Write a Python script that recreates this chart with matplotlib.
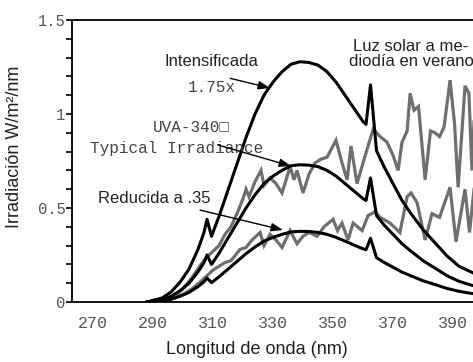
import matplotlib
matplotlib.use('Agg')
import matplotlib.pyplot as plt
from matplotlib.ticker import MultipleLocator

# lamp curves (UVA-340 at three levels)
wl_lamp = [288, 290, 293, 296, 299, 302, 305, 307, 308, 309.5, 312, 315, 318, 321, 324, 327,
           330, 333, 336, 339, 342, 345, 348, 351, 354, 357, 360, 361, 362.5, 364.5, 367, 370,
           373, 376, 380, 384, 388, 392, 396, 400]
lamp_typical = [0.0, 0.005, 0.012, 0.03, 0.06, 0.10, 0.16, 0.21, 0.25, 0.20, 0.26, 0.34, 0.42,
                0.50, 0.57, 0.63, 0.67, 0.70, 0.725, 0.73, 0.728, 0.72, 0.70, 0.67, 0.63, 0.59,
                0.55, 0.54, 0.66, 0.46, 0.41, 0.36, 0.31, 0.27, 0.22, 0.18, 0.14, 0.11, 0.09, 0.075]
lamp_high = [0.0, 0.009, 0.021, 0.053, 0.105, 0.175, 0.28, 0.37, 0.44, 0.35, 0.455, 0.595,
             0.735, 0.875, 1.0, 1.10, 1.17, 1.225, 1.265, 1.278, 1.274, 1.26, 1.225, 1.17, 1.10,
             1.03, 0.96, 0.945, 1.155, 0.805, 0.72, 0.63, 0.54, 0.47, 0.385, 0.315, 0.245, 0.19,
             0.16, 0.13]
lamp_low = [0.0, 0.003, 0.006, 0.015, 0.031, 0.051, 0.082, 0.108, 0.128, 0.103, 0.134, 0.175,
            0.216, 0.257, 0.293, 0.324, 0.344, 0.36, 0.373, 0.376, 0.375, 0.37, 0.36, 0.344,
            0.324, 0.303, 0.283, 0.278, 0.339, 0.236, 0.211, 0.185, 0.159, 0.139, 0.113, 0.093,
            0.072, 0.057, 0.046, 0.039]

# sunlight curves (gray, noisy)
wl_sun_hi = [293, 297, 300, 303, 306, 308, 310, 312, 314, 316, 318, 320, 321, 322, 324, 326,
             327, 329, 331, 333, 335.7, 337, 338, 340, 342, 344, 346, 348, 351, 353, 354.7, 356,
             358, 361.3, 363.4, 365.7, 368, 370, 371.7, 373, 374.7, 375.7, 377, 378.5, 380.7,
             382.5, 384, 385.5, 387, 389, 390.5, 391.7, 394, 395.3, 396.3, 397.5, 399]
sun_hi = [0.0, 0.03, 0.07, 0.13, 0.20, 0.24, 0.27, 0.30, 0.36, 0.40, 0.47, 0.55, 0.60, 0.56,
          0.64, 0.70, 0.62, 0.66, 0.63, 0.58, 0.72, 0.65, 0.70, 0.58, 0.68, 0.74, 0.76, 0.77,
          0.86, 0.74, 0.65, 0.83, 0.63, 0.81, 0.92, 0.88, 0.85, 0.78, 0.70, 0.85, 0.91, 1.11,
          1.02, 1.04, 0.65, 0.91, 0.90, 0.88, 0.93, 1.18, 0.95, 0.61, 1.15, 1.11, 0.70, 1.15, 1.2]
wl_sun_lo = [293, 297, 300, 303, 306, 308, 310, 312, 314, 316, 318, 319, 321, 323, 325.7, 327,
             329, 331, 333, 335.7, 338, 340, 342, 344.7, 347, 350, 351.5, 353, 355, 356.7,
             359.7, 361.7, 364, 365.7, 369, 372.3, 374.7, 376, 378, 380.7, 383, 385.5, 389, 391,
             394, 395.5, 397, 399]
sun_lo = [0.0, 0.02, 0.04, 0.07, 0.11, 0.14, 0.17, 0.19, 0.21, 0.22, 0.26, 0.28, 0.29, 0.33,
          0.37, 0.30, 0.36, 0.33, 0.29, 0.38, 0.31, 0.35, 0.37, 0.35, 0.40, 0.44, 0.38, 0.42,
          0.33, 0.42, 0.38, 0.46, 0.48, 0.45, 0.42, 0.37, 0.56, 0.58, 0.53, 0.33, 0.47, 0.45,
          0.61, 0.32, 0.60, 0.37, 0.60, 0.58]

x_ticks = [270, 290, 310, 330, 350, 370, 390]
y_ticks = [0, 0.5, 1, 1.5]
y_ticklabels = ['0', '0.5', '1', '1.5']

mono = ['Liberation Mono', 'DejaVu Sans Mono']
sans = ['Liberation Sans', 'DejaVu Sans']

fig = plt.figure(figsize=(4.73, 3.62), dpi=100)
ax = fig.add_axes([0.1522, 0.1657, 0.869, 0.779])

gray = '#6f6f6f'
ax.plot(wl_sun_hi, sun_hi, color=gray, lw=2.3, solid_joinstyle='miter')
ax.plot(wl_sun_lo, sun_lo, color=gray, lw=2.3, solid_joinstyle='miter')
for ys in (lamp_high, lamp_typical, lamp_low):
    ax.plot(wl_lamp, ys, color='black', lw=2.2)

ax.set_xlim(263, 400)
ax.set_ylim(0, 1.5)
ax.spines['right'].set_visible(False)
for s in ('left', 'bottom', 'top'):
    ax.spines[s].set_linewidth(1.3)

ax.set_xticks(x_ticks)
ax.set_xticklabels([str(v) for v in x_ticks], family=mono, fontsize=12, color='#555555')
ax.set_yticks(y_ticks)
ax.set_yticklabels(y_ticklabels, family=mono, fontsize=11.2, color='#555555')
ax.yaxis.set_minor_locator(MultipleLocator(0.1))
ax.tick_params(axis='x', length=0, pad=10)
ax.tick_params(axis='y', which='both', direction='out', length=4.3, width=1.2, pad=0.5)

fig.text(15 / 473, 1 - 147 / 362, 'Irradiación W/m²/nm', rotation=90, ha='center', va='center',
         family=sans, fontsize=13, color='#222222')
fig.text(256.5 / 473, 1 - 350 / 362, 'Longitud de onda (nm)', ha='center', va='center',
         family=sans, fontsize=13, color='#222222')

ax.text(309.5, 1.282, 'Intensificada', ha='center', va='center', family=sans, fontsize=12, color='#222222')
ax.text(309.7, 1.143, '1.75x', ha='center', va='center', family=mono, fontsize=11.5, color='#444444')
ax.text(302.7, 0.926, 'UVA-340\u25a1', ha='center', va='center', family=mono, fontsize=11.5, color='#444444')
ax.text(297.8, 0.814, 'Typical Irradiance', ha='center', va='center', family=mono, fontsize=11.5, color='#444444')
ax.text(290.3, 0.548, 'Reducida a .35', ha='center', va='center', family=sans, fontsize=12, color='#222222')
ax.text(376, 1.32, 'Luz solar a me-\ndiodía en verano', ha='center', va='center', family=sans,
        fontsize=12, color='#222222', linespacing=1.05)

arrow = dict(arrowstyle='-|>,head_length=0.7,head_width=0.25', color='black', lw=1.0,
             shrinkA=0, shrinkB=0)
ax.annotate('', xy=(329, 1.138), xytext=(315.7, 1.19), arrowprops=arrow)
ax.annotate('', xy=(336, 0.723), xytext=(311.7, 0.835), arrowprops=arrow)
ax.annotate('', xy=(333.3, 0.383), xytext=(305.7, 0.489), arrowprops=arrow)

plt.savefig('out.png', dpi=100)
